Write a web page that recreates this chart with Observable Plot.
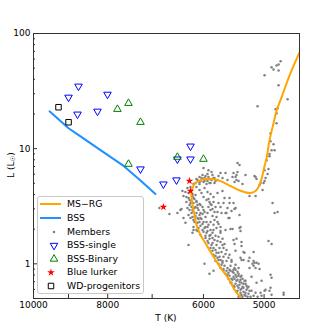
<!DOCTYPE html>
<html><head><meta charset="utf-8">
<script src="https://cdn.jsdelivr.net/npm/d3@7"></script>
<script src="https://cdn.jsdelivr.net/npm/@observablehq/plot@0.6"></script>
<style>
body{margin:0;background:#fff;font-family:"DejaVu Sans",sans-serif;}
#wrap{position:relative;width:332px;height:332px;}
</style></head><body><div id="wrap"></div>
<script>
// Isochrone MS-RG
const msrgT = [5303,5367,5465,5564,5700,5821,5945,6053,6127,6164,6201,6220,6220,6201,6164,6090,5963,5839,5700,5564,5432,5303,5208,5130,5084,5053,5023,4993,4963,4919,4860,4815,4744,4631,4495];
const msrgL = [0.46,0.51,0.596,0.742,0.924,1.15,1.46,1.78,2.18,2.66,3.24,3.81,4.20,4.55,4.93,5.23,5.45,5.45,5.23,4.83,4.46,4.20,4.12,4.29,4.64,5.12,5.90,7.06,8.28,11.8,16.6,21.5,27.9,43.3,68.5];
// BSS line
const bssT = [9530,9000,8682,8176,7652,7250,6931];
const bssL = [21.1,15.05,12.8,9.7,7.2,5.3,4.04];
// BSS-single
const bssSingleT = [8735,9000,8761,8250,8006,7250,6767,6507,6488,6238,6238];
const bssSingleL = [34.8,27.9,19.9,21.1,29.6,6.65,4.92,5.34,8.11,8.11,10.5];
// BSS-Binary
const bssBinaryT = [7770,7516,7250,7516,6488,6000];
const bssBinaryL = [22.0,24.8,16.96,7.34,8.44,8.11];
// Blue lurkers
const lurkerT = [6257,6238,6767];
const lurkerL = [5.23,4.29,3.11];
// WD progenitors
const wdT = [9276,9000];
const wdL = [22.9,16.96];
// Members [T, L]
const members = [
[4758,57.3],[4816,52.8],[4889,50.8],[4787,53.9],[4860,48.8],[4787,47.8],[4993,43.3],[4787,35.5],[4659,26.8],[5099,23.3],[4830,22.0],[4801,22.4],[4816,20.3],[4816,16.6],[4904,13.6],[4860,10.9],[4904,11.6],[4889,9.70],[4845,9.70],[4919,9.0],[4919,8.6],[5416,7.49],[5383,7.20],[4963,7.95],
[5498,5.67],[5448,5.67],[5432,5.90],[5416,6.26],[5432,5.34],[5465,5.13],[5287,5.90],[5335,4.93],[5130,5.67],[4993,6.51],[4934,6.65],[4948,6.02],[4978,5.56],[4993,5.23],[5053,5.03],[5068,4.83],[5008,5.03],[5130,3.88],[5023,4.37],[4874,3.38],[4801,2.82],[5548,3.38],[5448,3.05],[5514,2.88],[5383,2.66],[5367,2.09],[5498,2.01],
[5999,6.78],[5910,6.51],[5856,6.26],[5927,6.02],[6017,5.90],[6071,5.67],[5981,5.56],[5910,5.67],[5839,5.90],[5821,5.56],[6108,5.34],[6053,5.23],[5999,5.13],[5927,5.23],[5874,5.03],[5786,5.23],[5734,5.79],[5666,5.56],[5615,6.14],[5700,6.14],[5581,5.34],
[6182,4.93],[6127,4.64],[6295,4.55],[6391,4.29],[6333,4.20],[6371,3.88],[6201,3.88],[6182,3.73],[6257,3.58],[6127,3.45],[6035,4.12],[5999,3.81],[5927,4.20],[5874,4.04],[5910,3.66],[5821,3.81],[5752,4.12],[5666,4.29],[5821,3.45],[5874,3.31],[5786,3.12],[5734,3.38],[5700,3.12],[5649,3.38],[5581,3.05],[5615,2.76],[5565,2.50],[5683,2.76],[5752,2.82],[5839,2.99],[5910,3.12],[5999,2.93],[6053,3.24],[5927,2.76],[6053,2.76],[6145,3.12],[6201,2.93],[6257,3.24],[6295,3.05],[6429,2.93],[6488,2.76],[6276,2.66],[6201,2.55],[6182,2.40],[6108,2.27],[6053,2.50],[5999,2.31],[5927,2.09],[5874,2.31],[5821,2.18],[5752,2.31],[5700,2.09],[6371,2.50],[6333,2.27],[6182,2.09],[6090,2.05],
[5481,6.14],[5399,5.23],[5146,5.79],[5115,5.45],[5224,3.88],
[6182,1.97],[6108,1.93],[6017,1.97],[5927,1.93],[5821,1.97],[5700,1.93],[5615,1.97],[6053,1.78],[5963,1.75],[5874,1.78],[5786,1.75],[5927,1.58],[5839,1.52],[5752,1.58],[5666,1.46],[5874,1.37],[5786,1.32],[5734,1.25],[5821,1.20],[5752,1.13],[5700,1.08],[5786,1.06],[5734,1.00],[5666,1.02],[5700,0.92],[5821,0.870],[5649,0.870],[5581,0.803],[6276,1.46],[6201,1.86],[5981,1.00],[5581,0.92],
[5531,2.01],[5367,1.93],[5481,1.61],[5465,1.49],[5351,1.55],[4934,1.58],[4889,1.49],[5448,1.30],[5319,1.27],[5161,1.27],[5514,1.08],[5367,1.13],[5351,1.08],[5319,1.08],[5240,1.06],[5161,1.06],[5115,1.02],[5084,1.00],[5177,1.00],[5448,0.98],[5399,0.92],[5224,0.92],[5130,0.92],[4904,0.803],[5531,0.870],[5481,0.836],[5448,0.803],[5399,0.788],[5367,0.727],[5351,0.685],[5287,0.713],[5192,0.773],[5038,0.713],[5115,0.685],[5416,0.645],[5367,0.596],[5319,0.620],[5271,0.596],[5192,0.584],[5130,0.562],[5053,0.562],[4978,0.596],[4904,0.620],[4889,0.539],[4715,0.539],[5038,0.529],[5351,0.539],[5287,0.529],
[6849,3.05],[6646,2.71],[6410,2.99],[5892,0.820],[4845,2.76],[4715,0.562],[4889,0.758],[4919,0.584],[4993,0.584],[5632,3.73],[5548,3.73],[5481,3.38],[5465,2.99],[5598,2.76],[5548,2.50],[5383,2.05],[5432,1.65],[5351,1.43],[5303,1.25],[5224,1.13],[5146,1.02],[5161,0.96],[5068,0.90],
[6201,4.04],[6145,3.96],[6164,3.66],[6127,3.51],[6182,3.38],[6108,3.24],[6164,3.05],[6090,2.93],[6127,2.76],[6071,2.66],[6108,2.50],[6035,2.45],[6071,2.31],[6017,2.22],[6053,2.14],[5981,2.05],[5999,1.90],[5945,1.86],[5963,1.68],[5892,1.65],[5910,1.52],[5856,1.46],[5821,1.37],[5839,1.30],[5769,1.25],[5786,1.17],[5717,1.15],[5734,1.08],[5666,1.06],[5683,0.98],[5632,0.96],[5649,0.90],[5598,0.870],[5615,0.820],[5548,0.788],[5565,0.742],[5498,0.727],[5514,0.685],[5448,0.671],[5465,0.633],[5399,0.620],[5416,0.584],[5367,0.562],[5383,0.529],[5319,0.573],[5335,0.519],[5287,0.562],[5432,0.713],[5481,0.773],[5531,0.685],[5565,0.836],
[5945,3.58],[5892,3.45],[5856,3.24],[5874,2.93],[5804,2.82],[5839,2.60],[5769,2.55],[5804,2.40],[5734,2.22],[5769,2.05],[5700,1.86],[5734,1.72],[5666,1.65],[5700,1.55],[5632,1.49],[5649,1.37],[5598,1.32],[5615,1.22],[5548,1.20],[5565,1.13],[5514,1.04],[5531,0.96],[5465,0.92],[5481,0.887],[5416,0.853],[5432,0.773],[5367,0.773],[5383,0.699],[5319,0.671],[5335,0.633],[5271,0.645],[5240,0.550],[5208,0.519],[5161,0.529],[5099,0.519],[5240,0.633],
[6145,5.03],[6071,4.93],[6017,5.45],[5945,4.93],[5892,5.45],[5804,5.03],[5752,5.34],[5963,5.79],[6238,4.64],[6276,4.12],[6314,3.81],[6238,3.38],[6314,3.45],[6071,4.37],[5981,4.55],
[5548,0.887],[5498,0.853],[5448,0.887],[5399,0.820],[5351,0.788],[5465,0.742],[5416,0.727],[5335,0.742],[5303,0.713],[5383,0.658],[5287,0.671],[5255,0.620],[5351,0.608],[5432,0.573],[5303,0.539],[5255,0.519],[5224,0.584],[5399,0.519],[5481,0.645],[5514,0.742],
[6276,3.73],[6219,3.51],[6257,2.93],[6219,2.76],[6238,2.50],[6164,2.31],[6127,1.97],[6090,2.45],[6145,2.60],[6182,2.82],[6219,3.12],[6108,3.05],[6071,3.31],[6017,3.12],[5981,2.82],[5963,2.55],[6017,2.71],[5945,2.31],[5910,2.18],[5874,1.97],[5839,1.86],[5892,1.75],[5804,1.61],[5769,1.46],[5717,1.37],[5683,1.27],[5649,1.15],[5598,1.06],[5839,1.68],[5963,2.09],
[6127,5.45],[6035,5.56],[5945,5.45],[5856,5.34],[5981,5.23],[6071,5.13],[5804,5.56],[5892,5.03]
];

const xTicks = [10000, 8000, 6000, 5000];
const xMinor = [9000, 7000];
const yTicks = [1, 10, 100];
const yMinor = [0.6,0.7,0.8,0.9,2,3,4,5,6,7,8,9,20,30,40,50,60,70,80,90];

const zip = (T, L) => T.map((t, i) => ({T: t, L: L[i]}));
const msrg = zip(msrgT, msrgL);
const bss = zip(bssT, bssL);
const bssSingle = zip(bssSingleT, bssSingleL);
const bssBinary = zip(bssBinaryT, bssBinaryL);
const lurker = zip(lurkerT, lurkerL);
const wd = zip(wdT, wdL);
const mem = members.map(([T, L]) => ({T, L}));

const axisColor = "#333";
const chart = Plot.plot({
  width: 332, height: 332,
  marginLeft: 33, marginRight: 33, marginTop: 33, marginBottom: 34,
  style: {fontFamily: "DejaVu Sans", fontSize: "9px", color: "#000", background: "white"},
  x: {type: "log", domain: [10000, 4495]},
  y: {type: "log", domain: [0.5, 100]},
  marks: [
    Plot.dot(mem, {x: "T", y: "L", r: 1.25, fill: "#808080", clip: true}),
    Plot.line(msrg, {x: "T", y: "L", stroke: "#FFA500", strokeWidth: 2, curve: "catmull-rom", clip: true}),
    Plot.line(bss, {x: "T", y: "L", stroke: "#1E90FF", strokeWidth: 2, clip: true}),
    Plot.dot(bssSingle, {x: "T", y: "L", symbol: "triangle", rotate: 180, r: 2.8, stroke: "blue", fill: "none", strokeWidth: 1}),
    Plot.dot(bssBinary, {x: "T", y: "L", symbol: "triangle", r: 2.8, stroke: "green", fill: "none", strokeWidth: 1}),
    Plot.dot(lurker, {x: "T", y: "L", symbol: "star", r: 2.4, fill: "red", stroke: "none"}),
    Plot.dot(wd, {x: "T", y: "L", symbol: "square", r: 3.1, stroke: "black", fill: "none", strokeWidth: 1}),
    Plot.frame({stroke: axisColor}),
    Plot.axisX(xTicks, {anchor: "bottom", tickSize: -4, tickFormat: () => "", label: null, stroke: axisColor}),
    Plot.axisX(xMinor, {anchor: "bottom", tickSize: -4, tickFormat: () => "", label: null, stroke: axisColor}),
    Plot.text(xTicks, {x: d => d, text: d => String(d), frameAnchor: "bottom", lineAnchor: "top", dy: 3, fontSize: 9, fill: "#000"}),
    Plot.axisY(yTicks, {anchor: "left", tickSize: -4, tickPadding: 7, tickFormat: d => String(d), label: null, stroke: axisColor}),
    Plot.axisY(yMinor, {anchor: "left", tickSize: -2, tickFormat: () => "", label: null, stroke: axisColor})
  ]
});
document.getElementById("wrap").appendChild(chart);

const svg = d3.select(chart);
// axis labels
svg.append("text").attr("x", 166).attr("y", 318).attr("text-anchor", "middle").attr("dominant-baseline", "middle")
  .attr("font-size", 9).attr("font-family", "DejaVu Sans").attr("fill", "#000").text("T (K)");
const yl = svg.append("text").attr("transform", "translate(11,165) rotate(-90)").attr("text-anchor", "middle")
  .attr("dominant-baseline", "middle").attr("font-size", 9).attr("font-family", "DejaVu Sans").attr("fill", "#000");
yl.append("tspan").text("L (L");
yl.append("tspan").attr("font-size", 6.5).attr("dy", 2).text("☉");
yl.append("tspan").attr("dy", -2).text(")");

// legend
const lg = svg.append("g").attr("font-family", "DejaVu Sans").attr("font-size", 9.3).attr("text-anchor", "start");
lg.append("rect").attr("x", 37.5).attr("y", 196.5).attr("width", 106).attr("height", 97).attr("rx", 2.5)
  .attr("fill", "white").attr("fill-opacity", 0.85).attr("stroke", "#c8c8c8").attr("stroke-width", 1);
const rows = [
  {label: "MS\u2212RG", kind: "line", color: "#FFA500"},
  {label: "BSS", kind: "line", color: "#1E90FF"},
  {label: "Members", kind: "dot"},
  {label: "BSS-single", kind: "tri", rot: 180, color: "blue"},
  {label: "BSS-Binary", kind: "tri", rot: 0, color: "green"},
  {label: "Blue lurker", kind: "star"},
  {label: "WD-progenitors", kind: "square"}
];
const rowY = [204, 218, 232, 245.5, 259, 272.5, 286];
rows.forEach((r, i) => {
  const y = rowY[i];
  if (r.kind === "line") {
    lg.append("line").attr("x1", 40).attr("x2", 61).attr("y1", y).attr("y2", y).attr("stroke", r.color).attr("stroke-width", 2);
  } else if (r.kind === "dot") {
    lg.append("circle").attr("cx", 54).attr("cy", y).attr("r", 1.25).attr("fill", "#808080");
  } else if (r.kind === "tri") {
    lg.append("path").attr("d", d3.symbol(d3.symbolTriangle, Math.PI * 2.8 * 2.8)())
      .attr("transform", `translate(54,${y}) rotate(${r.rot})`).attr("fill", "none").attr("stroke", r.color);
  } else if (r.kind === "star") {
    lg.append("path").attr("d", d3.symbol(d3.symbolStar, Math.PI * 2.4 * 2.4)())
      .attr("transform", `translate(51,${y})`).attr("fill", "red");
  } else {
    lg.append("path").attr("d", d3.symbol(d3.symbolSquare, Math.PI * 3.1 * 3.1)())
      .attr("transform", `translate(51,${y})`).attr("fill", "none").attr("stroke", "black");
  }
  lg.append("text").attr("x", 67).attr("y", y).attr("dominant-baseline", "middle").attr("text-anchor", "start").attr("fill", "#000").text(r.label);
});
</script>
</body></html>
